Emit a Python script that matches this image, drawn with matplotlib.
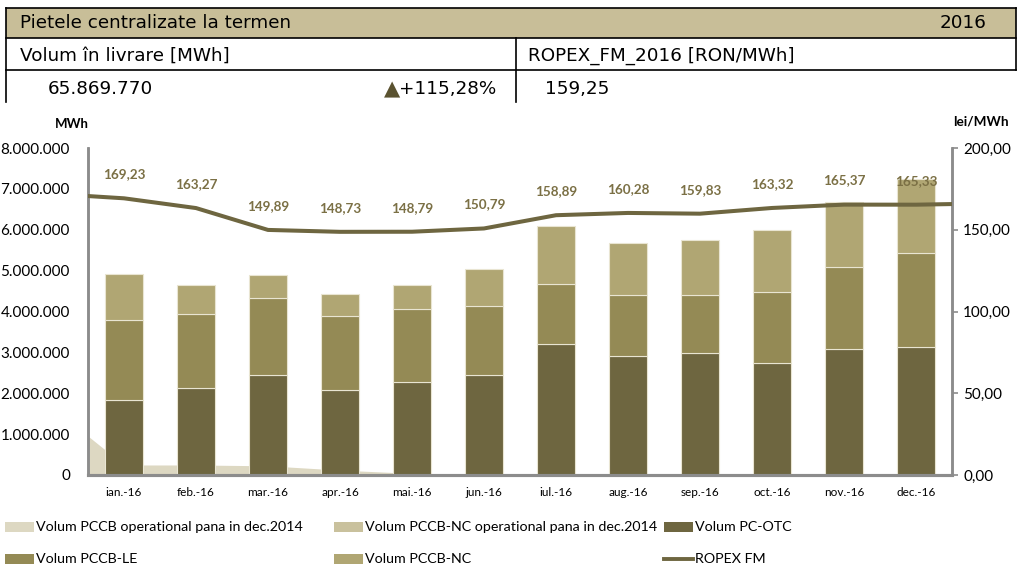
import matplotlib
matplotlib.use("Agg")
import matplotlib.pyplot as plt
import matplotlib.patches as mpatches
import matplotlib.lines as mlines
import numpy as np
from matplotlib.ticker import FuncFormatter

# ---------------- data ----------------
months = ["ian.-16", "feb.-16", "mar.-16", "apr.-16", "mai.-16", "jun.-16",
          "iul.-16", "aug.-16", "sep.-16", "oct.-16", "nov.-16", "dec.-16"]
vol_pc_otc = [1835000, 2130000, 2450000, 2070000, 2280000, 2450000,
              3200000, 2920000, 2980000, 2730000, 3080000, 3130000]
vol_pccb_le = [1955000, 1810000, 1890000, 1820000, 1770000, 1680000,
               1470000, 1480000, 1420000, 1750000, 2020000, 2310000]
vol_pccb_nc = [1130000, 710000, 560000, 530000, 590000, 910000,
               1420000, 1280000, 1360000, 1510000, 1580000, 1800000]
vol_pccb_nc_op = [0] * 12
# area series incl. previous month (dec.-15) which is clipped by the axis
area_months = ["dec.-15"] + months
vol_pccb_op = [1660000, 245000, 245000, 225000, 120000, 40000, 0,
               0, 0, 0, 0, 0, 0]
# ROPEX FM incl. neighbouring months (clipped at the plot edges)
ropex_months = ["dec.-15"] + months + ["ian.-17"]
ropex = [172.0, 169.23, 163.27, 149.89, 148.73, 148.79, 150.79,
         158.89, 160.28, 159.83, 163.32, 165.37, 165.33, 166.1]
ropex_labels = ["169,23", "163,27", "149,89", "148,73", "148,79", "150,79",
                "158,89", "160,28", "159,83", "163,32", "165,37", "165,33"]

left_ticks = [0, 1000000, 2000000, 3000000, 4000000, 5000000, 6000000, 7000000, 8000000]
right_ticks = [0, 50, 100, 150, 200]

title = "Pietele centralizate la termen"
year = "2016"
vol_label = "Volum în livrare [MWh]"
ropex_head = "ROPEX_FM_2016 [RON/MWh]"
vol_total = "65.869.770"
vol_change = "+115,28%"
ropex_avg = "159,25"

# ---------------- colours ----------------
c_op = "#DDD8C2"
c_nc_op = "#C9C19D"
c_otc = "#6E6640"
c_le = "#948A55"
c_nc = "#B0A673"
c_line = "#6E6640"
c_lbl = "#7B7045"
c_axis = "#8C8C8C"

W, H = 1021, 569
fig = plt.figure(figsize=(W / 100, H / 100), dpi=100)

def fx(px):
    return px / W

def fy(py):
    return 1 - py / H

# ---------------- header table ----------------
hdr_font = "DejaVu Sans"
fig.patches.append(mpatches.Rectangle((fx(6), fy(38)), fx(1016 - 6), fy(8) - fy(38),
                                      transform=fig.transFigure, facecolor="#C8BE98",
                                      edgecolor="none", zorder=0))
def hline(x0, x1, y, lw=1.2):
    fig.add_artist(mlines.Line2D([fx(x0), fx(x1)], [fy(y), fy(y)], color="black", lw=lw,
                                 transform=fig.transFigure))
def vline(x, y0, y1, lw=1.2):
    fig.add_artist(mlines.Line2D([fx(x), fx(x)], [fy(y0), fy(y1)], color="black", lw=lw,
                                 transform=fig.transFigure))
hline(6, 1016, 8)
hline(6, 1016, 38)
hline(6, 1016, 70)
vline(6, 8, 102)
vline(1016, 8, 70)
vline(516, 38, 102)

fs_h = 13.2
fig.text(fx(20), fy(23), title, fontsize=fs_h, family=hdr_font, va="center", ha="left")
fig.text(fx(986), fy(23), year, fontsize=fs_h, family=hdr_font, va="center", ha="right")
fig.text(fx(20), fy(56), vol_label, fontsize=fs_h, family=hdr_font, va="center", ha="left")
fig.text(fx(528), fy(56), ropex_head, fontsize=fs_h, family=hdr_font, va="center", ha="left")
fig.text(fx(48), fy(89), vol_total, fontsize=fs_h, family=hdr_font, va="center", ha="left")
chg = fig.text(fx(496), fy(89), vol_change, fontsize=fs_h, family=hdr_font, va="center", ha="right")
fig.canvas.draw()
bb = chg.get_window_extent()
fig.text(bb.x0 / W + fx(1), fy(89), "▲", fontsize=fs_h + 2, family=hdr_font, va="center", ha="right",
         color="#5A5230")
fig.text(fx(545), fy(89), ropex_avg, fontsize=fs_h, family=hdr_font, va="center", ha="left")

# ---------------- chart ----------------
chart_font = "Lato"
ax = fig.add_axes([fx(88), fy(475), fx(952) - fx(88), fy(148) - fy(475)])
ax2 = ax.twinx()
ax.set_zorder(1)
ax2.set_zorder(2)
ax.patch.set_visible(False)
ax2.patch.set_visible(False)

x = np.arange(len(months))
xa = np.arange(len(area_months)) - 1
xr = np.arange(len(ropex_months)) - 1

ax.fill_between(xa, 0, vol_pccb_op, color=c_op, lw=0, zorder=1)
w = 0.53
ec = "#E9E5D2"
b0 = np.zeros(len(months))
ax.bar(x, vol_pccb_nc_op, w, bottom=b0, color=c_nc_op, edgecolor=ec, lw=0.8, zorder=2)
ax.bar(x, vol_pc_otc, w, bottom=b0, color=c_otc, edgecolor=ec, lw=0.8, zorder=2)
b1 = b0 + np.array(vol_pc_otc)
ax.bar(x, vol_pccb_le, w, bottom=b1, color=c_le, edgecolor=ec, lw=0.8, zorder=2)
b2 = b1 + np.array(vol_pccb_le)
ax.bar(x, vol_pccb_nc, w, bottom=b2, color=c_nc, edgecolor=ec, lw=0.8, zorder=2)

ax.set_xlim(-0.5, len(months) - 0.5)
ax.set_ylim(0, 8000000)
ax.set_yticks(left_ticks)
ax.yaxis.set_major_formatter(FuncFormatter(lambda v, p: "0" if v == 0 else f"{int(v):,}".replace(",", ".")))
ax.set_xticks(x)
ax.set_xticklabels(months, fontsize=8.5, family=chart_font)
ax.tick_params(axis="x", length=0, pad=9)
ax.tick_params(axis="y", length=0, pad=13, labelsize=11)
for t in ax.get_yticklabels():
    t.set_family(chart_font)

ax2.plot(xr, ropex, color=c_line, lw=2.9, zorder=3, solid_capstyle="butt", clip_on=True)
ax2.set_ylim(0, 200)
ax2.set_xlim(-0.5, len(months) - 0.5)
ax2.set_yticks(right_ticks)
ax2.yaxis.set_major_formatter(FuncFormatter(lambda v, p: f"{v:.2f}".replace(".", ",")))
ax2.tick_params(axis="y", length=4, width=1.2, color=c_axis, pad=4, labelsize=11)
for t in ax2.get_yticklabels():
    t.set_family(chart_font)
for i, lab in enumerate(ropex_labels):
    ax2.annotate(lab, (x[i], ropex[i + 1]), xytext=(0, 13), textcoords="offset points",
                 ha="center", va="bottom", fontsize=9.7, fontweight="bold",
                 color=c_lbl, family=chart_font, zorder=4)

for a in (ax, ax2):
    a.spines["top"].set_visible(False)
    a.spines["left"].set_color(c_axis)
    a.spines["right"].set_color(c_axis)
    a.spines["bottom"].set_color(c_axis)
    a.spines["left"].set_linewidth(1.8)
    a.spines["right"].set_linewidth(1.8)
    a.spines["bottom"].set_linewidth(2.2)

fig.text(fx(72), fy(124), "MWh", fontsize=9.5, fontweight="bold", family=chart_font,
         ha="center", va="center")
fig.text(fx(981), fy(121), "lei/MWh", fontsize=9.8, fontweight="bold", family=chart_font,
         ha="center", va="center")

# ---------------- legend ----------------
leg_items = [
    ("Volum PCCB operational pana in dec.2014", c_op, "patch", 5, 527),
    ("Volum PCCB-NC operational pana in dec.2014", c_nc_op, "patch", 334, 527),
    ("Volum PC-OTC", c_otc, "patch", 664, 527),
    ("Volum PCCB-LE", c_le, "patch", 5, 559),
    ("Volum PCCB-NC", c_nc, "patch", 334, 559),
    ("ROPEX FM", c_line, "line", 664, 559),
]
for lab, col, kind, px, py in leg_items:
    if kind == "patch":
        fig.patches.append(mpatches.Rectangle((fx(px), fy(py + 5)), fx(29), fy(py - 5) - fy(py + 5),
                                              transform=fig.transFigure, facecolor=col,
                                              edgecolor="none"))
    else:
        fig.add_artist(mlines.Line2D([fx(px), fx(px + 29)], [fy(py), fy(py)], color=col, lw=2.8,
                                     transform=fig.transFigure))
    fig.text(fx(px + 31), fy(py), lab, fontsize=10.3, family=chart_font, ha="left", va="center")

fig.savefig("out.png", dpi=100)
